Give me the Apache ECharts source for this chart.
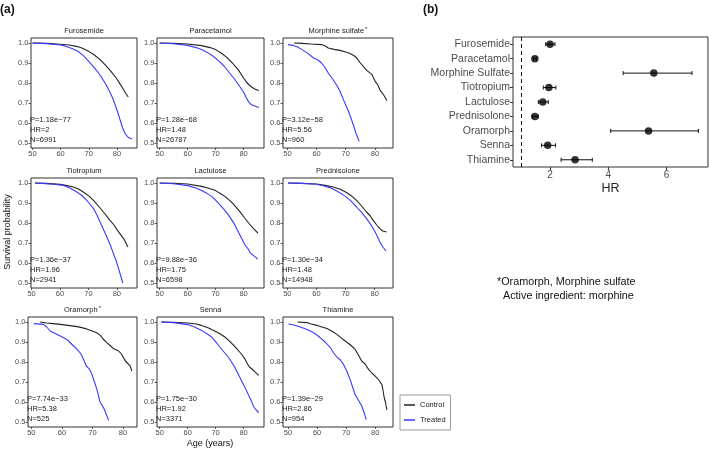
<!DOCTYPE html>
<html><head><meta charset="utf-8">
<script src="https://cdn.jsdelivr.net/npm/echarts@6/dist/echarts.min.js"></script>
<style>html,body{margin:0;padding:0;background:#fff}#c{width:709px;height:450px}</style>
</head><body><div id="c"></div>
<script>
// ---------- Panel (a) data ----------
const panelTitles = ['Furosemide','Paracetamol','Morphine sulfate','Tiotropium','Lactulose','Prednisolone','Oramorph','Senna','Thiamine'];
const panelStar = [false,false,true,false,false,false,true,false,false];
const pValues = ['1.18e\u221277','1.28e\u221268','3.12e\u221258','1.36e\u221237','9.88e\u221236','1.30e\u221234','7.74e\u221233','1.75e\u221230','1.39e\u221229'];
const hrValues = ['2','1.48','5.56','1.96','1.75','1.48','5.38','1.92','2.86'];
const nValues = ['6991','26787','960','2941','6598','14948','525','3371','954'];
const xTicks = [50,60,70,80];
const yTicks = [0.5,0.6,0.7,0.8,0.9,1.0];

const furosemideControl = [[50,1],[55,0.998],[60,0.994],[63,0.99],[66,0.982],[68,0.972],[70,0.958],[72,0.94],[74,0.917],[76,0.888],[78,0.856],[80,0.82],[81,0.797],[82,0.775],[83,0.75],[84,0.73]];
const furosemideTreated = [[50,1],[55,0.997],[60,0.99],[62,0.983],[64,0.973],[66,0.96],[68,0.938],[70,0.908],[72,0.876],[74,0.84],[76,0.795],[78,0.74],[79,0.705],[80,0.665],[81,0.62],[82,0.575],[83,0.545],[84,0.528],[85.3,0.52]];
const paracetamolControl = [[50,1],[55,0.998],[60,0.995],[65,0.987],[68,0.977],[70,0.967],[72,0.95],[74,0.928],[76,0.9],[78,0.868],[80,0.825],[81,0.805],[82,0.79],[83,0.779],[84,0.77],[85.4,0.762]];
const paracetamolTreated = [[50,1],[55,0.996],[60,0.988],[63,0.977],[65,0.967],[67,0.953],[69,0.935],[71,0.912],[73,0.885],[75,0.85],[77,0.815],[79,0.775],[80,0.755],[81,0.725],[82,0.702],[83,0.69],[84,0.685],[85.4,0.678]];
const morphineControl = [[52.3,1],[55,0.998],[58,0.995],[61.7,0.992],[63,0.985],[64,0.975],[66,0.968],[68,0.963],[70,0.955],[71.5,0.947],[73,0.935],[73.8,0.925],[75,0.9],[75.5,0.89],[77.2,0.863],[79,0.842],[80.1,0.808],[81,0.79],[81.8,0.763],[83,0.74],[84.1,0.712]];
const morphineTreated = [[50.2,0.992],[52,0.988],[53.5,0.98],[55,0.967],[57,0.948],[59,0.925],[60.5,0.915],[61.7,0.9],[63,0.875],[64,0.85],[65.5,0.82],[66.9,0.79],[68,0.76],[69.2,0.717],[70,0.69],[70.9,0.66],[71.8,0.625],[72.6,0.59],[73.5,0.55],[74.6,0.508]];
const tiotropiumControl = [[51.2,1],[55,0.998],[60,0.993],[62.5,0.987],[64.7,0.98],[66.5,0.97],[68.2,0.955],[70,0.937],[71.8,0.913],[73.5,0.885],[75.3,0.855],[77.6,0.813],[79,0.79],[80,0.768],[81,0.748],[82.4,0.722],[83.2,0.7],[83.9,0.68]];
const tiotropiumTreated = [[51.2,1],[55,0.997],[58,0.994],[61.2,0.988],[63.5,0.975],[65.9,0.955],[67.5,0.94],[69.4,0.913],[70.5,0.895],[71.8,0.872],[73,0.84],[74.1,0.805],[75.3,0.768],[76.5,0.73],[77.7,0.69],[78.8,0.647],[79.8,0.61],[80.6,0.572],[81.4,0.535],[82.1,0.5]];
const lactuloseControl = [[50,1],[55,0.998],[60,0.995],[65,0.983],[67.5,0.974],[70,0.962],[72,0.945],[73.3,0.933],[75,0.913],[76.2,0.897],[78.6,0.858],[80.4,0.825],[82.1,0.795],[83.9,0.767],[85.1,0.75]];
const lactuloseTreated = [[50,1],[55,0.996],[60,0.987],[63,0.975],[65,0.963],[67,0.947],[68.6,0.933],[70,0.914],[71.5,0.892],[73,0.868],[74.5,0.842],[75.7,0.817],[76.8,0.792],[77.7,0.767],[78.6,0.742],[79.5,0.717],[80.4,0.692],[81.1,0.68],[81.8,0.667],[82.3,0.652],[82.7,0.648],[83.9,0.633],[85.1,0.62]];
const prednisoloneControl = [[50.2,1],[55,0.998],[60,0.995],[63,0.988],[65.7,0.98],[68,0.97],[70,0.955],[72,0.936],[73.8,0.913],[75.5,0.885],[77.2,0.855],[78.5,0.835],[79.5,0.813],[80.7,0.79],[81.8,0.772],[82.8,0.76],[84.1,0.755]];
const prednisoloneTreated = [[50.2,1],[55,0.998],[60,0.994],[62.5,0.985],[64.6,0.977],[67,0.96],[70,0.933],[72,0.908],[73.8,0.88],[75.5,0.853],[77.2,0.822],[78.4,0.798],[79.5,0.772],[80.7,0.74],[81.8,0.705],[82.8,0.68],[83.9,0.66]];
const oramorphControl = [[52.9,1],[55,0.995],[57,0.992],[59.5,0.988],[62,0.983],[65,0.977],[66.5,0.972],[67.7,0.967],[69,0.96],[70.4,0.952],[71.5,0.945],[72.6,0.933],[73.5,0.915],[74.8,0.896],[76,0.88],[77,0.866],[78.6,0.855],[79.5,0.84],[80.2,0.821],[80.8,0.805],[81.3,0.796],[82.4,0.779],[82.9,0.754]];
const oramorphTreated = [[50.8,0.992],[54,0.988],[55,0.975],[56.2,0.955],[57.8,0.943],[59.5,0.93],[61,0.918],[62.2,0.905],[63.5,0.885],[65,0.863],[66,0.845],[66.6,0.83],[67.3,0.805],[68,0.78],[69.1,0.763],[69.8,0.74],[70.4,0.712],[71,0.685],[71.5,0.662],[72,0.63],[72.4,0.604],[73,0.588],[73.7,0.57],[74.5,0.54],[75.3,0.508]];
const sennaControl = [[50.6,1],[55,0.998],[60,0.995],[63,0.99],[65,0.983],[67.5,0.97],[70,0.953],[71.7,0.94],[73.3,0.925],[74.8,0.907],[76.2,0.887],[77.5,0.868],[78.6,0.85],[79.5,0.835],[80.4,0.817],[81.2,0.795],[82.1,0.775],[83,0.765],[83.9,0.753],[85.4,0.733]];
const sennaTreated = [[50.6,1],[55,0.997],[60,0.987],[62.5,0.975],[65,0.958],[67,0.94],[68.6,0.925],[70,0.902],[71.5,0.875],[73,0.85],[74.5,0.825],[75.7,0.8],[76.8,0.775],[77.7,0.75],[78.6,0.725],[79.5,0.7],[80.4,0.675],[81.1,0.655],[81.8,0.633],[82.3,0.62],[82.7,0.608],[83.2,0.59],[83.7,0.575],[84.5,0.56],[85.4,0.547]];
const thiamineControl = [[53.3,1],[56.5,0.997],[58,0.99],[60,0.983],[61.7,0.975],[63.4,0.967],[65,0.955],[66.8,0.938],[68.5,0.918],[70,0.901],[71.5,0.885],[73.1,0.863],[74.2,0.835],[75.4,0.804],[76.5,0.79],[77.7,0.763],[78.8,0.745],[80,0.729],[81.2,0.71],[82.3,0.687],[82.7,0.655],[83.1,0.62],[83.5,0.6],[84,0.56]];
const thiamineTreated = [[50.2,0.99],[52,0.985],[53.7,0.977],[55.7,0.967],[57.7,0.955],[59.5,0.94],[61.1,0.921],[62.8,0.9],[64.6,0.871],[65.7,0.845],[66.8,0.826],[68,0.81],[69.1,0.788],[70.2,0.755],[71.4,0.712],[72.2,0.675],[73.1,0.637],[74.2,0.61],[75.4,0.579],[76.2,0.545],[76.9,0.512]];

const controlCurves = [furosemideControl,paracetamolControl,morphineControl,tiotropiumControl,lactuloseControl,prednisoloneControl,oramorphControl,sennaControl,thiamineControl];
const treatedCurves = [furosemideTreated,paracetamolTreated,morphineTreated,tiotropiumTreated,lactuloseTreated,prednisoloneTreated,oramorphTreated,sennaTreated,thiamineTreated];

// ---------- Panel (b) data ----------
const forestCategories = ['Furosemide','Paracetamol','Morphine Sulfate','Tiotropium','Lactulose','Prednisolone','Oramorph','Senna','Thiamine'];
const forestHR = [2.0,1.48,5.56,1.96,1.75,1.48,5.38,1.92,2.86];
const forestLow = [1.85,1.43,4.51,1.77,1.60,1.39,4.08,1.71,2.38];
const forestHigh = [2.17,1.53,6.87,2.20,1.94,1.60,7.09,2.19,3.45];
const hrTicks = [2,4,6];

// ---------- layout (pixels) ----------
const panelBoxes = [
  {l:31,t:38,w:106,h:110,xmin:49.5,xmax:87.1},
  {l:157,t:38,w:107,h:110,xmin:49.05,xmax:87.3},
  {l:283,t:38,w:110,h:110,xmin:48.5,xmax:86.2},
  {l:31,t:178,w:106,h:110,xmin:49.8,xmax:87.1},
  {l:157,t:178,w:107,h:110,xmin:49.05,xmax:87.3},
  {l:283,t:178,w:110,h:110,xmin:48.5,xmax:86.3},
  {l:28,t:317,w:109,h:110,xmin:48.9,xmax:84.6},
  {l:157,t:317,w:107,h:110,xmin:49.05,xmax:87.3},
  {l:283,t:317,w:110,h:110,xmin:48.3,xmax:86.1}
];
const FONT = '"Liberation Sans", Arial, sans-serif';
const tickCol = '#333', labCol = '#4d4d4d';
const grids = [], xAxes = [], yAxes = [], series = [], graphics = [];

panelBoxes.forEach((b,i)=>{
  grids.push({left:b.l,top:b.t,width:b.w,height:b.h,show:true,borderColor:'#333',borderWidth:1,backgroundColor:'#fff'});
  xAxes.push({type:'value',gridIndex:i,min:b.xmin,max:b.xmax,
    axisLine:{show:false},splitLine:{show:false},
    axisTick:{show:true,length:2,customValues:xTicks,lineStyle:{color:tickCol,width:0.8}},
    axisLabel:{customValues:xTicks,fontSize:7.5,color:labCol,margin:1.5,fontFamily:FONT}});
  yAxes.push({type:'value',gridIndex:i,min:0.475,max:1.025,
    axisLine:{show:false},splitLine:{show:false},
    axisTick:{show:true,length:2.5,customValues:yTicks,lineStyle:{color:tickCol,width:0.8}},
    axisLabel:{customValues:yTicks,fontSize:7.5,color:labCol,margin:2.5,fontFamily:FONT,formatter:v=>v.toFixed(1)}});
  series.push({type:'line',name:'Control',xAxisIndex:i,yAxisIndex:i,data:controlCurves[i],showSymbol:false,silent:true,
    lineStyle:{color:'#222',width:1.1},itemStyle:{color:'#222'},animation:false});
  series.push({type:'line',name:'Treated',xAxisIndex:i,yAxisIndex:i,data:treatedCurves[i],showSymbol:false,silent:true,
    lineStyle:{color:'#3a3aff',width:1.1},itemStyle:{color:'#3a3aff'},animation:false});
  // title
  graphics.push({type:'text',x:b.l+b.w/2,y:b.t-7,style:{
    text: panelStar[i] ? '{a|'+panelTitles[i]+'}{s|*}' : panelTitles[i],
    rich:{a:{fontSize:7.5,fontFamily:FONT,fill:'#222'},s:{fontSize:6,fontFamily:FONT,fill:'#222',verticalAlign:'top',padding:[0,0,4,1]}},
    fontSize:7.5,fontFamily:FONT,fill:'#222',align:'center',verticalAlign:'middle'}});
  // annotation
  const bottom = b.t+b.h;
  [['P='+pValues[i],-28.5],['HR='+hrValues[i],-18],['N='+nValues[i],-8]].forEach(([t,dy])=>{
    graphics.push({type:'text',x:b.l-1,y:bottom+dy,style:{text:t,fontSize:7.5,fontFamily:FONT,fill:'#222',align:'left',verticalAlign:'middle'}});
  });
});

// forest grid
const fi = panelBoxes.length;
grids.push({left:513,top:37,width:195,height:130,show:true,borderColor:'#333',borderWidth:1,backgroundColor:'#fff'});
xAxes.push({type:'value',gridIndex:fi,min:0.73,max:7.42,axisLine:{show:false},splitLine:{show:false},
  axisTick:{show:true,length:3,customValues:hrTicks,lineStyle:{color:tickCol}},
  axisLabel:{customValues:hrTicks,fontSize:10,color:labCol,margin:3,fontFamily:FONT},
  name:'HR',nameLocation:'middle',nameGap:15,nameTextStyle:{fontSize:12.5,color:'#222',fontFamily:FONT,verticalAlign:'top'}});
yAxes.push({type:'category',gridIndex:fi,data:forestCategories,inverse:true,axisLine:{show:false},splitLine:{show:false},
  axisTick:{show:true,length:3,alignWithLabel:true,lineStyle:{color:tickCol}},
  axisLabel:{fontSize:10.5,color:labCol,margin:3,fontFamily:FONT}});
series.push({type:'custom',xAxisIndex:fi,yAxisIndex:fi,silent:true,animation:false,
  data:forestHR.map((v,i)=>[i,forestLow[i],forestHigh[i]]),
  encode:{x:[1,2],y:0},
  renderItem:(params,api)=>{
    const c = api.value(0);
    const p1 = api.coord([api.value(1),c]);
    const p2 = api.coord([api.value(2),c]);
    const h = 2;
    const st = {stroke:'#111',lineWidth:1};
    return {type:'group',children:[
      {type:'line',shape:{x1:p1[0],y1:p1[1],x2:p2[0],y2:p2[1]},style:st},
      {type:'line',shape:{x1:p1[0],y1:p1[1]-h,x2:p1[0],y2:p1[1]+h},style:st},
      {type:'line',shape:{x1:p2[0],y1:p2[1]-h,x2:p2[0],y2:p2[1]+h},style:st}
    ]};
  }});
series.push({type:'scatter',xAxisIndex:fi,yAxisIndex:fi,silent:true,animation:false,
  data:forestHR.map((v,i)=>[v,forestCategories[i]]),symbolSize:7.5,itemStyle:{color:'#000'},
  markLine:{silent:true,symbol:'none',label:{show:false},lineStyle:{color:'#111',type:[4,3],width:1},data:[{xAxis:1}]}});

// other texts
graphics.push({type:'text',x:0,y:10,style:{text:'(a)',fontSize:12,fontWeight:'bold',fontFamily:FONT,fill:'#111',align:'left',verticalAlign:'middle'}});
graphics.push({type:'text',x:423,y:10,style:{text:'(b)',fontSize:12,fontWeight:'bold',fontFamily:FONT,fill:'#111',align:'left',verticalAlign:'middle'}});
graphics.push({type:'text',x:8,y:232,rotation:Math.PI/2,style:{text:'Survival probability',fontSize:9,fontFamily:FONT,fill:'#111',align:'center',verticalAlign:'middle'}});
graphics.push({type:'text',x:210,y:444,style:{text:'Age (years)',fontSize:9,fontFamily:FONT,fill:'#111',align:'center',verticalAlign:'middle'}});
graphics.push({type:'text',x:497,y:282,style:{text:'*Oramorph, Morphine sulfate',fontSize:10.8,fontFamily:FONT,fill:'#111',align:'left',verticalAlign:'middle'}});
graphics.push({type:'text',x:503,y:296,style:{text:'Active ingredient: morphine',fontSize:10.8,fontFamily:FONT,fill:'#111',align:'left',verticalAlign:'middle'}});

const chart = echarts.init(document.getElementById('c'),null,{renderer:'canvas'});
chart.setOption({
  animation:false,
  backgroundColor:'#fff',
  grid:grids,xAxis:xAxes,yAxis:yAxes,series:series,
  legend:{data:['Control','Treated'],orient:'vertical',left:400,top:395,icon:'rect',itemWidth:11,itemHeight:1.5,itemGap:7,
    padding:[6,5,6,4],borderColor:'#999',borderWidth:1,selectedMode:false,
    textStyle:{fontSize:7.5,color:'#222',fontFamily:FONT}},
  graphic:graphics
});
</script></body></html>
